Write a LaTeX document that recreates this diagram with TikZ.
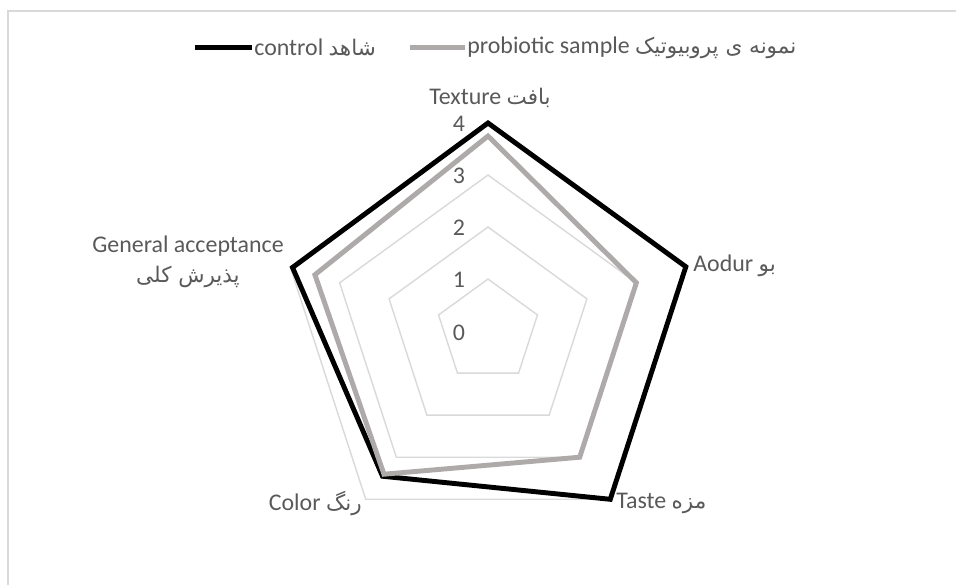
\documentclass[tikz,border=0pt]{standalone}
\usepackage{fontspec}
\setmainfont{Carlito}
\newfontfamily\farsi[Script=Arabic,Scale=0.9]{DejaVu Sans}
\TeXXeTstate=1
\definecolor{gridgray}{HTML}{D9D9D9}
\definecolor{textgray}{HTML}{595959}
\definecolor{probgray}{HTML}{AEAAAA}
\tikzset{
  grid/.style={draw=gridgray, line width=0.8pt},
  ctrl/.style={draw=black, line width=2.8pt},
  prob/.style={draw=probgray, line width=2.8pt},
  lbl/.style={text=textgray, font=\fontsize{13.6}{15}\selectfont, inner sep=0pt},
}
\begin{document}
\begin{tikzpicture}
\useasboundingbox (0,0) rectangle (19.12,-11.68);
\draw [gridgray, line width=0.9pt] (0.16,-11.8) -- (0.16,-0.22) -- (19.3,-0.22);

\begin{scope}[shift={(9.76,-6.62)}]
\draw [grid] (90:1.04) -- (18:1.04) -- (-54:1.04) -- (-126:1.04) -- (162:1.04) -- cycle;
\draw [grid] (90:2.08) -- (18:2.08) -- (-54:2.08) -- (-126:2.08) -- (162:2.08) -- cycle;
\draw [grid] (90:3.12) -- (18:3.12) -- (-54:3.12) -- (-126:3.12) -- (162:3.12) -- cycle;
\draw [grid] (90:4.16) -- (18:4.16) -- (-54:4.16) -- (-126:4.16) -- (162:4.16) -- cycle;

% control
\coordinate (c1) at (90:4.16);
\coordinate (c2) at (18:4.16);
\coordinate (c3) at (-54:4.16);
\coordinate (c4) at (-126:3.59);
\coordinate (c5) at (162:4.11);
% probiotic sample
\coordinate (p1) at (90:3.9);
\coordinate (p2) at (18:3.12);
\coordinate (p3) at (-54:3.12);
\coordinate (p4) at (-126:3.54);
\coordinate (p5) at (162:3.64);
\end{scope}

\draw [ctrl] (c1) -- (c2) -- (c3) -- (c4) -- (c5) -- cycle;
\draw [prob] (p1) -- (p2) -- (p3) -- (p4) -- (p5) -- cycle;

\node [lbl] (t4) at (9.18,-2.48) {4};
\node [lbl] (t3) at (9.18,-3.52) {3};
\node [lbl] (t2) at (9.18,-4.56) {2};
\node [lbl] (t1) at (9.18,-5.60) {1};
\node [lbl] (t0) at (9.18,-6.66) {0};

\node [lbl] (texture) at (9.8,-1.96) {Texture {\farsi\beginR بافت\endR}};
\node [lbl, anchor=west] (aodur) at (13.86,-5.32) {Aodur {\farsi\beginR بو\endR}};
\node [lbl, anchor=west] (taste) at (12.32,-10.06) {Taste {\farsi\beginR مزه\endR}};
\node [lbl, anchor=east] (color) at (7.24,-10.06) {Color {\farsi\beginR رنگ\endR}};
\node [lbl, align=center] (general) at (3.76,-5.24) {General acceptance\\[2pt]{\farsi\beginR پذیرش کلی\endR}};

\coordinate (lc1) at (3.9,-0.95);
\coordinate (lc2) at (5.04,-0.95);
\coordinate (lp1) at (8.2,-0.95);
\coordinate (lp2) at (9.3,-0.95);
\draw [ctrl] (lc1) -- (lc2);
\draw [prob] (lp1) -- (lp2);
\node [lbl, anchor=west] (legc) at (5.08,-0.95) {control {\farsi\beginR شاهد\endR}};
\node [lbl, anchor=west] (legp) at (9.34,-0.95) {probiotic sample {\farsi\beginR نمونه ی پروبیوتیک\endR}};
\end{tikzpicture}
\end{document}
